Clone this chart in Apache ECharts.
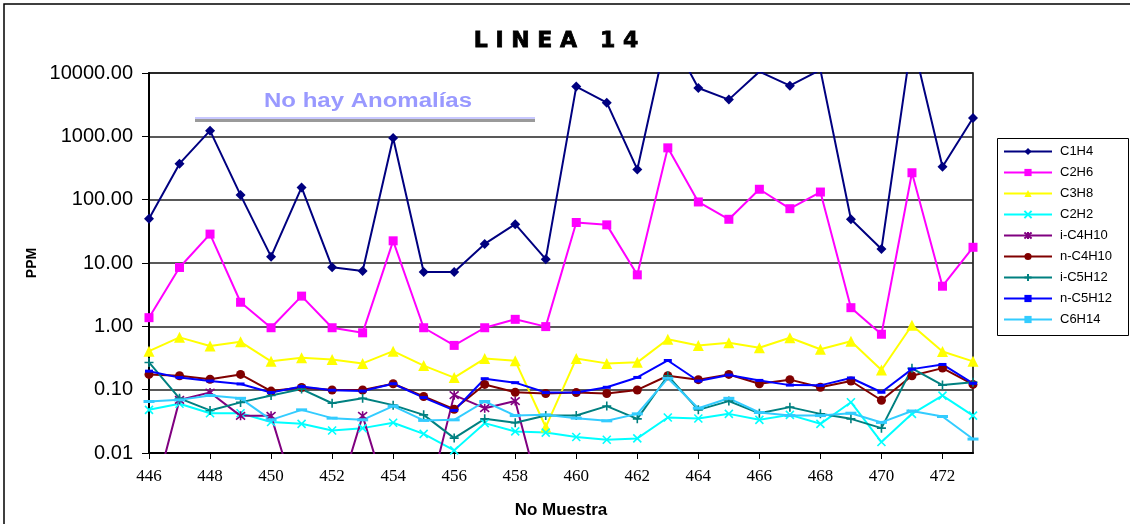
<!DOCTYPE html>
<html><head><meta charset="utf-8">
<script src="https://cdn.jsdelivr.net/npm/echarts@6/dist/echarts.min.js"></script>
<style>html,body{margin:0;padding:0;background:#fff}#c{width:1130px;height:524px}</style>
</head><body><div id="c"></div>
<script>
const categories = ['446','447','448','449','450','451','452','453','454','455','456','457','458','459','460','461','462','463','464','465','466','467','468','469','470','471','472','473'];
const seriesNames = ['C1H4','C2H6','C3H8','C2H2','i-C4H10','n-C4H10','i-C5H12','n-C5H12','C6H14'];
const c1h4 = [50,370,1230,118,12.6,156,8.6,7.5,944,7.2,7.2,20,41,11.5,6100,3400,300,45000,5800,3800,10500,6300,11200,49,16.6,35000,330,1950];
const c2h6 = [1.37,8.5,28.6,2.4,0.95,3.0,0.95,0.79,22.4,0.95,0.5,0.95,1.29,0.99,43.6,40,6.5,658,92,49,146,72,132,1.97,0.75,266,4.3,17.7];
const c3h8 = [0.405,0.67,0.49,0.57,0.28,0.32,0.30,0.26,0.405,0.24,0.155,0.31,0.285,0.0257,0.31,0.26,0.27,0.625,0.50,0.55,0.46,0.66,0.435,0.58,0.204,1.04,0.40,0.28];
const c2h2 = [0.048,0.060,0.0425,0.0425,0.0308,0.0289,0.0227,0.0247,0.030,0.020,0.011,0.0296,0.0219,0.021,0.0179,0.0162,0.017,0.0364,0.035,0.0415,0.0334,0.040,0.0289,0.0634,0.0149,0.0415,0.0807,0.039];
const ic4h10 = [0.001,0.069,0.09,0.0386,0.0386,0.001,0.001,0.0386,0.001,0.001,0.082,0.051,0.066,0.001,0.001,0.001,0.001,0.001,0.001,0.001,0.001,0.001,0.001,0.001,0.001,0.001,0.001,0.001];
const nc4h10 = [0.174,0.166,0.146,0.174,0.095,0.108,0.099,0.099,0.124,0.078,0.049,0.121,0.091,0.087,0.090,0.087,0.099,0.166,0.144,0.174,0.124,0.144,0.109,0.137,0.068,0.166,0.219,0.121];
const ic5h12 = [0.269,0.073,0.047,0.063,0.081,0.102,0.061,0.073,0.057,0.040,0.0172,0.0346,0.030,0.039,0.039,0.055,0.0346,0.166,0.048,0.066,0.0425,0.053,0.0415,0.0346,0.0247,0.217,0.118,0.131];
const nc5h12 = [0.196,0.155,0.137,0.123,0.090,0.112,0.098,0.095,0.124,0.075,0.047,0.149,0.129,0.090,0.090,0.109,0.156,0.289,0.137,0.17,0.140,0.118,0.117,0.153,0.091,0.211,0.25,0.126];
const c6h14 = [0.065,0.069,0.081,0.073,0.0334,0.048,0.0355,0.0334,0.055,0.0327,0.0334,0.065,0.039,0.040,0.0355,0.0322,0.0415,0.151,0.051,0.073,0.0436,0.039,0.039,0.0425,0.0304,0.046,0.0377,0.0166];

const allData = [c1h4,c2h6,c3h8,c2h2,ic4h10,nc4h10,ic5h12,nc5h12,c6h14];
const colors = ['#000080','#ff00ff','#ffff00','#00ffff','#800080','#800000','#008080','#0000ff','#33ccff'];
const symbols = ['diamond','rect','triangle','path://M0,0L10,10M10,0L0,10','path://M0,0L10,10M10,0L0,10M5,-1L5,11','circle','path://M5,0L5,10M0,5L10,5','rect','rect'];
const symbolSizes = [10,9,11,8,9,9,9,[8,3],[11,3]];
const strokeSym = [false,false,false,true,true,false,true,false,false];

const chart = echarts.init(document.getElementById('c'), null, {renderer:'canvas'});
const series = seriesNames.map((n,i)=>({
  name:n, type:'line', data:allData[i], symbol:symbols[i], symbolSize:symbolSizes[i],
  showAllSymbol:true, clip:true,
  lineStyle:{color:colors[i], width:2},
  itemStyle:{color: strokeSym[i] ? 'rgba(0,0,0,0)' : colors[i], borderColor:colors[i], borderWidth: strokeSym[i]?1.6:0},
  emphasis:{disabled:true}, animation:false
}));

chart.setOption({
  animation:false,
  backgroundColor:'#fff',
  grid:{left:149, right:157, top:73, bottom:69, show:true, borderColor:'#000', borderWidth:1.5},
  legend:{
    orient:'vertical', left:1003, top:144,
    padding:0, itemGap:6, itemWidth:48, itemHeight:9,
    textStyle:{fontFamily:'Liberation Sans, Arial', fontSize:13, color:'#000', padding:[0,0,0,3], lineHeight:15},
    data:seriesNames
  },
  xAxis:{
    type:'category', data:categories, boundaryGap:false,
    axisLine:{lineStyle:{color:'#000', width:2}},
    axisTick:{show:true, interval:1, length:6, lineStyle:{color:'#000'}},
    axisLabel:{interval:1, margin:15, fontFamily:'Liberation Serif, Times New Roman', fontSize:17, color:'#000'},
    name:'No Muestra', nameLocation:'middle', nameGap:49,
    nameTextStyle:{fontFamily:'Liberation Sans, Arial', fontWeight:'bold', fontSize:17, color:'#000'}
  },
  yAxis:{
    type:'log', logBase:10, min:0.01, max:10000,
    axisLine:{show:true, lineStyle:{color:'#000', width:2}},
    axisTick:{show:true, length:7, lineStyle:{color:'#000'}},
    splitLine:{show:true, lineStyle:{color:'#222', width:1.5}},
    axisLabel:{margin:16, fontFamily:'Liberation Sans, Arial', fontSize:20, color:'#000',
      formatter:v=>Number(v).toFixed(2)},
    name:'PPM', nameLocation:'middle', nameGap:106, nameRotate:90,
    nameTextStyle:{fontFamily:'Liberation Sans, Arial', fontWeight:'bold', fontSize:14, color:'#000'}
  },
  graphic:[
    {type:'rect', shape:{x:4, y:4, width:1140, height:540}, style:{fill:'none', stroke:'#000', lineWidth:1.5}, z:-10, silent:true},
    {type:'rect', shape:{x:997.5, y:138.5, width:131, height:197}, style:{fill:'#fff', stroke:'#000', lineWidth:1}, z:-5, silent:true},
    {type:'text', x:556, y:41, style:{text:'L I N E A   1 4', fontFamily:'DejaVu Sans', fontWeight:'bold', fontSize:22, fill:'#000', stroke:'#000', lineWidth:0.8, textAlign:'center', textVerticalAlign:'middle'}},
    {type:'text', x:368, y:101, scaleX:1.2, style:{text:'No hay Anomalías', fontFamily:'Liberation Sans, Arial', fontWeight:'bold', fontSize:20, fill:'#9999ff', textAlign:'center', textVerticalAlign:'middle'}},
    {type:'line', shape:{x1:195, y1:118, x2:535, y2:118}, style:{stroke:'#c8c8ff', lineWidth:2}},
    {type:'line', shape:{x1:195, y1:120.5, x2:535, y2:120.5}, style:{stroke:'#9a9a9a', lineWidth:3}}
  ],
  series:series
});
</script></body></html>
